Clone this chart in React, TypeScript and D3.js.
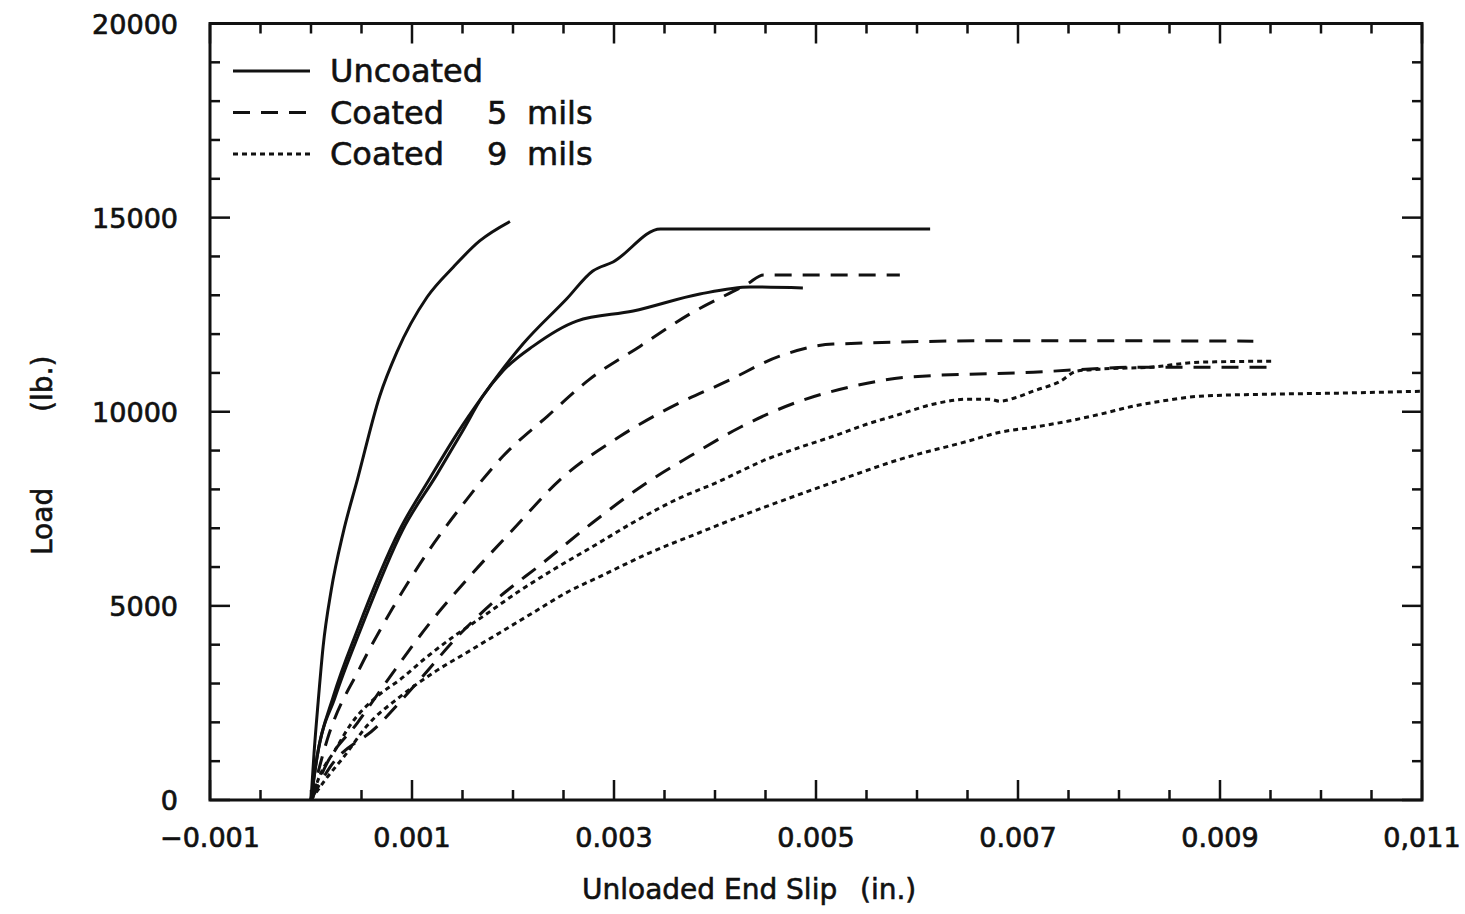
import React from "react";
import * as d3 from "d3";

// slip (in.) vs load (lb.)
const uncoatedA = [
  [0, 0], [0.00003, 1200], [0.00007, 2500], [0.00012, 3950], [0.0002, 5400],
  [0.00032, 6900], [0.00046, 8258], [0.00068, 10400], [0.00085, 11535],
  [0.00115, 12955], [0.00141, 13729], [0.00167, 14400], [0.00197, 14900],
];
const uncoatedB = [
  [0, 0], [0.00006, 1110], [0.00022, 2658], [0.00046, 4387], [0.00088, 6968],
  [0.00118, 8300], [0.00145, 9450], [0.0017, 10400], [0.0021, 11750],
  [0.00253, 12903], [0.00279, 13626], [0.00299, 13858], [0.00346, 14710],
  [0.00613, 14710],
];
const uncoatedC = [
  [0, 0], [0.00006, 1110], [0.00024, 2658], [0.00049, 4387], [0.00091, 6968],
  [0.00125, 8400], [0.0015, 9500], [0.0017, 10400], [0.0019, 11050],
  [0.0022, 11690], [0.00263, 12335], [0.00319, 12593], [0.00385, 13032],
  [0.00435, 13213], [0.00487, 13187],
];
const coated5A = [
  [0, 0], [0.00016, 1548], [0.00049, 3432], [0.00081, 4950], [0.00116, 6400],
  [0.0015, 7600], [0.0019, 8852], [0.00234, 9884], [0.00276, 10839],
  [0.00326, 11690], [0.00375, 12516], [0.00432, 13290], [0.00448, 13522],
  [0.00583, 13522],
];
const coated5B = [
  [0, 0], [0.00016, 955], [0.00046, 1987], [0.00081, 3277], [0.00118, 4568],
  [0.00157, 5755], [0.002, 6968], [0.00247, 8258], [0.00306, 9368],
  [0.00355, 10100], [0.00412, 10787], [0.00464, 11432], [0.00517, 11742],
  [0.00689, 11830], [0.00933, 11819],
];
const coated5C = [
  [0, 0], [0.00019, 852], [0.00065, 1884], [0.00105, 3019], [0.00145, 4206],
  [0.0018, 5084], [0.0023, 6116], [0.00279, 7148], [0.00333, 8181],
  [0.00375, 8852], [0.00425, 9600], [0.00481, 10245], [0.00537, 10658],
  [0.0059, 10890], [0.00715, 11019], [0.00821, 11148], [0.00948, 11148],
];
const coated9A = [
  [0, 0], [0.00009, 645], [0.00024, 1290], [0.00039, 1935], [0.00065, 2658],
  [0.00088, 3097], [0.00115, 3690], [0.00141, 4206], [0.0017, 4723],
  [0.00204, 5342], [0.0024, 5935], [0.00279, 6529], [0.00319, 7148],
  [0.00362, 7742], [0.00402, 8181], [0.00451, 8774], [0.00484, 9084],
  [0.00517, 9368], [0.0055, 9677], [0.00583, 9935], [0.00616, 10194],
  [0.0065, 10323], [0.00672, 10323], [0.00682, 10271], [0.00699, 10374],
  [0.00715, 10529], [0.00742, 10787], [0.00758, 11045], [0.00781, 11097],
  [0.00831, 11148], [0.0088, 11277], [0.00954, 11303],
];
const coated9B = [
  [0, 0], [0.00014, 516], [0.00034, 1161], [0.00055, 1900], [0.00088, 2658],
  [0.00121, 3277], [0.00154, 3794], [0.00187, 4310], [0.0022, 4826],
  [0.00253, 5342], [0.00286, 5755], [0.00336, 6374], [0.00385, 6890],
  [0.00435, 7406], [0.00451, 7561], [0.00517, 8181], [0.00583, 8774],
  [0.0065, 9239], [0.00682, 9471], [0.00715, 9600], [0.00749, 9755],
  [0.00781, 9935], [0.00814, 10142], [0.00848, 10297], [0.0088, 10400],
  [0.00947, 10452], [0.01012, 10477], [0.011, 10529],
];

const xLabelValues = [-0.001, 0.001, 0.003, 0.005, 0.007, 0.009, 0.011];
const xLabelTexts = ["\u22120.001", "0.001", "0.003", "0.005", "0.007", "0.009", "0,011"];
const yLabelValues = [0, 5000, 10000, 15000, 20000];
const legendNames = ["Uncoated", "Coated", "Coated"];
const legendThickness = ["", "5", "9"];

const SOLID = "none";
const DASH = "17 11";
const DOT = "5 4";

const series = [
  { pts: uncoatedA, dash: SOLID },
  { pts: uncoatedB, dash: SOLID },
  { pts: uncoatedC, dash: SOLID },
  { pts: coated5A, dash: DASH },
  { pts: coated5B, dash: DASH },
  { pts: coated5C, dash: DASH },
  { pts: coated9A, dash: DOT },
  { pts: coated9B, dash: DOT },
];
const legendDash = [SOLID, DASH, DOT];

const FONT = "'DejaVu Sans', sans-serif";
const INK = "#111";

export default function App() {
  const left = 210, right = 1422, top = 23.5, bottom = 800;
  const x = d3.scaleLinear().domain([-0.001, 0.011]).range([left, right]);
  const y = d3.scaleLinear().domain([0, 20000]).range([bottom, top]);

  const line = d3
    .line<number[]>()
    .x((d) => x(d[0]))
    .y((d) => y(d[1]))
    .curve(d3.curveMonotoneX);

  const isLabeledX = (v: number) => xLabelValues.some((l) => Math.abs(l - v) < 1e-7);
  const xTicks = d3.range(0, 25).map((i) => -0.001 + i * 0.0005);
  const yTicks = d3.range(0, 21).map((i) => i * 1000);

  return (
    <div style={{ position: "fixed", left: 0, top: 0 }}>
      <svg width={1465} height={914} style={{ display: "block", background: "#fff" }}>
        {/* curves */}
        <g fill="none" stroke={INK} strokeWidth={3} strokeLinejoin="round">
          {series.map((s, i) => (
            <path key={i} d={line(s.pts) || ""} strokeDasharray={s.dash} />
          ))}
        </g>

        {/* frame */}
        <rect x={left} y={top} width={right - left} height={bottom - top}
          fill="none" stroke={INK} strokeWidth={3} />

        {/* ticks on all four sides */}
        <g stroke={INK} strokeWidth={2.5}>
          {xTicks.map((v, i) => {
            const len = isLabeledX(v) ? 20 : 10;
            const px = x(v);
            return (
              <g key={i}>
                <line x1={px} x2={px} y1={bottom} y2={bottom - len} />
                <line x1={px} x2={px} y1={top} y2={top + len} />
              </g>
            );
          })}
          {yTicks.map((v, i) => {
            const len = v % 5000 === 0 ? 20 : 10;
            const py = y(v);
            return (
              <g key={i}>
                <line x1={left} x2={left + len} y1={py} y2={py} />
                <line x1={right} x2={right - len} y1={py} y2={py} />
              </g>
            );
          })}
        </g>

        {/* tick labels */}
        <g fontFamily={FONT} fontSize={27} fill={INK} stroke={INK} strokeWidth={0.7}>
          {xLabelValues.map((v, i) => (
            <text key={i} x={x(v)} y={847} textAnchor="middle">{xLabelTexts[i]}</text>
          ))}
          {yLabelValues.map((v) => (
            <text key={v} x={178} y={y(v) + 10} textAnchor="end">{v}</text>
          ))}
        </g>

        {/* axis titles */}
        <g fontFamily={FONT} fontSize={28} fill={INK} stroke={INK} strokeWidth={0.6}>
          <text x={582} y={899}>Unloaded End Slip</text>
          <text x={860} y={899}>(in.)</text>
          <text transform="translate(52,555) rotate(-90)">Load</text>
          <text transform="translate(52,412) rotate(-90)">(lb.)</text>
        </g>

        {/* legend */}
        <g fontFamily={FONT} fontSize={32} fill={INK}>
          {legendNames.map((name, i) => {
            const ly = 71 + i * 41.5;
            return (
              <g key={i}>
                <line x1={233} x2={310} y1={ly} y2={ly} stroke={INK} strokeWidth={3}
                  strokeDasharray={legendDash[i]} />
                <g stroke={INK} strokeWidth={0.6}>
                  <text x={330} y={ly + 11}>{name}</text>
                  {legendThickness[i] && (
                    <>
                      <text x={487} y={ly + 11}>{legendThickness[i]}</text>
                      <text x={527} y={ly + 11}>mils</text>
                    </>
                  )}
                </g>
              </g>
            );
          })}
        </g>
      </svg>
    </div>
  );
}
